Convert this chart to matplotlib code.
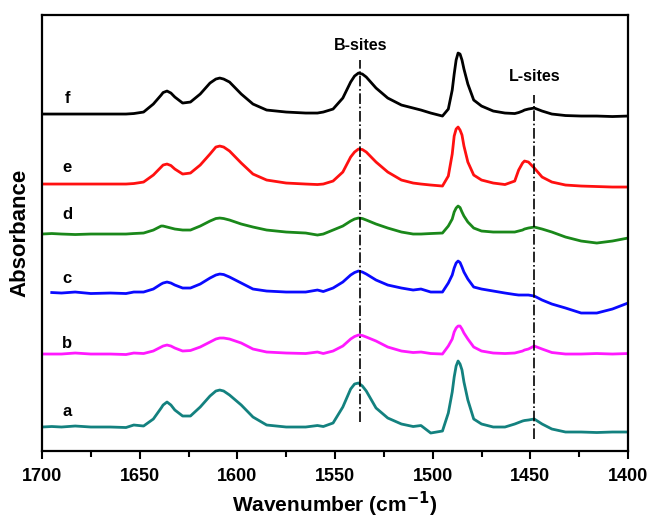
import numpy as np
import matplotlib
matplotlib.use('Agg')
import matplotlib.pyplot as plt
from matplotlib.ticker import MultipleLocator

plt.rcParams['font.family'] = ['Liberation Sans', 'DejaVu Sans']
plt.rcParams['font.weight'] = 'bold'
plt.rcParams['mathtext.default'] = 'bf'

# wavenumber grid (cm-1)
wn = [1700, 1695, 1690, 1683, 1675, 1665, 1657, 1653, 1648, 1643,
      1639, 1638, 1636, 1634, 1632, 1628, 1624, 1619, 1614, 1611,
      1609, 1607, 1604, 1598, 1592, 1585, 1575, 1565, 1559, 1556,
      1551, 1546, 1542, 1540, 1538, 1536, 1534, 1529, 1523, 1516,
      1510, 1506, 1501, 1495, 1492, 1490, 1489, 1488, 1487, 1486,
      1485, 1484, 1482, 1479, 1475, 1469, 1463, 1458, 1456, 1454,
      1453, 1451, 1448, 1444, 1439, 1432, 1424, 1416, 1408, 1400]

# absorbance above each baseline (x100, a.u.)
spec_a = [0, 0.5, 0, 1, 0, 0, -0.5, 2, 1, 8,
          19, 22, 25, 22, 17, 11, 11, 20, 31, 36,
          37, 36, 32, 22, 10, 2, 0, 0, 1.5, 0.5,
          4, 20, 38, 43, 44, 41, 36, 19, 9, 3,
          0.5, 1.5, -6, -4, 14, 35, 50, 61, 66, 63,
          57, 45, 27, 8, 3, 0, 0, 3, 4.5, 6,
          6.5, 7, 8, 3, -2, -5, -5, -5.5, -5, -5]
spec_b = [0, 0, 0, 1, 0, 0, -0.5, 1, 0.5, 3,
          7, 8, 9, 8, 6, 3, 3.5, 7, 12, 15,
          16, 16, 15, 11, 5, 2, 1, 0.5, 2, 0.5,
          3, 8, 15, 17.5, 19, 18.5, 17, 13, 7, 3,
          1.5, 2, 0.5, 0, 8, 15, 22, 26, 28, 28,
          25, 21, 15, 7, 3, 1, 0.5, 1, 2, 3,
          4, 5, 8, 5, 1.5, 0, 0, 0.5, 0, 0.5]
spec_c = [np.nan, 0.5, 0, 1, -0.5, 0, -0.5, 1, 1, 4,
          9, 10, 11, 10, 8, 5, 5, 9, 15, 18,
          19, 18.5, 16, 10, 4, 2, 1, 1, 3, 1.5,
          5, 11, 18, 20.5, 22, 21, 19, 13, 8, 5,
          3, 4, 1, 1, 10, 18, 25, 30, 32, 30.5,
          26, 21, 14, 6, 4, 2, 0, -1.5, -2, -2,
          -2, -2, -3, -7, -11, -15, -20, -20, -16, -10]
spec_d = [0, 0.5, 0, -0.5, 0, 0, 0, 0.5, 1, 4,
          8, 8, 7, 6, 5, 4, 4, 8, 13, 15.5,
          16, 15.5, 14, 10, 7, 4, 2, 1, -1, 0,
          4, 8, 13, 15, 16, 15.5, 14, 10, 6, 2,
          0, 0, 0.5, 1, 8, 15, 22, 26, 28, 26.5,
          22, 18, 12, 6, 3, 2, 2, 2, 3, 4,
          5, 6, 7, 5, 2, -3, -7, -9, -7, -4]
spec_e = [0, 0, 0, 0, 0, 0, 0, 0.5, 2, 9,
          17, 19, 20, 18.5, 15, 10, 11, 19, 30, 37,
          38, 37, 33, 21, 10, 4, 1, 0, -0.5, 0,
          3, 12, 27, 32, 35, 34.5, 32, 22, 12, 4,
          1, 0, -1, -2, 8, 30, 48, 55, 57, 54,
          49, 38, 22, 9, 4, 1, -0.5, 3, 14, 21,
          23, 22, 16, 7, 2, -1, -2, -2.5, -3, -3]
spec_f = [0, 0, 0, 0, 0, 0, 0, 0.5, 2, 10,
          19, 21.5, 23, 21, 17, 11, 12, 20, 31, 35,
          36, 35, 32, 20, 10, 4, 2, 1, 1, 2,
          5, 16, 32, 38, 41, 40, 37, 26, 16, 9,
          6, 4, 1, -2, 5, 24, 40, 54, 61, 60,
          54, 45, 30, 14, 8, 3, 1, 0.5, 1.5, 3,
          4, 5, 6, 3, 0, -1.5, -2, -2, -2.5, -2]

names = ['a', 'b', 'c', 'd', 'e', 'f']
spectra = [spec_a, spec_b, spec_c, spec_d, spec_e, spec_f]
offsets = [0.24, 0.97, 1.58, 2.17, 2.67, 3.37]
label_y = [0.40, 1.08, 1.73, 2.37, 2.84, 3.53]
colors = ['#13817f', '#ff19ff', '#0a0aff', '#1a881a', '#ff1010', '#000000']

b_site = 1537
l_site = 1448

fig = plt.figure(figsize=(6.49, 5.19), dpi=100)
ax = fig.add_axes([0.0647, 0.131, 0.903, 0.840])

for name, spec, off, ly, col in zip(names, spectra, offsets, label_y, colors):
    y = off + np.array(spec, dtype=float) / 100
    ax.plot(wn, y, color=col, lw=2, solid_joinstyle='round')
    ax.text(1687, ly, name, fontsize=12, fontweight='bold', ha='center', va='center')

ax.plot([b_site, b_site], [0.29, 3.91], color='k', lw=1.2, ls='-.')
ax.plot([l_site, l_site], [0.12, 3.56], color='k', lw=1.2, ls='-.')
ax.text(b_site, 4.06, 'B-sites', fontsize=11.5, fontweight='bold', ha='center', va='center')
ax.text(l_site, 3.75, 'L-sites', fontsize=11.5, fontweight='bold', ha='center', va='center')

ax.set_xlim(1700, 1400)
ax.set_ylim(0, 4.36)
ax.xaxis.set_major_locator(MultipleLocator(50))
ax.xaxis.set_minor_locator(MultipleLocator(25))
ax.tick_params(axis='x', which='major', direction='out', length=6, width=1.5,
               labelsize=13, pad=6)
ax.tick_params(axis='x', which='minor', direction='out', length=4, width=1.5)
ax.set_yticks([])
for lab in ax.get_xticklabels():
    lab.set_fontweight('bold')
for sp in ax.spines.values():
    sp.set_linewidth(1.6)

ax.set_xlabel('Wavenumber (cm$^{-1}$)', fontsize=15, fontweight='bold', labelpad=4)
ax.set_ylabel('Absorbance', fontsize=16, fontweight='bold', labelpad=8)

fig.savefig('out.png', dpi=100)
